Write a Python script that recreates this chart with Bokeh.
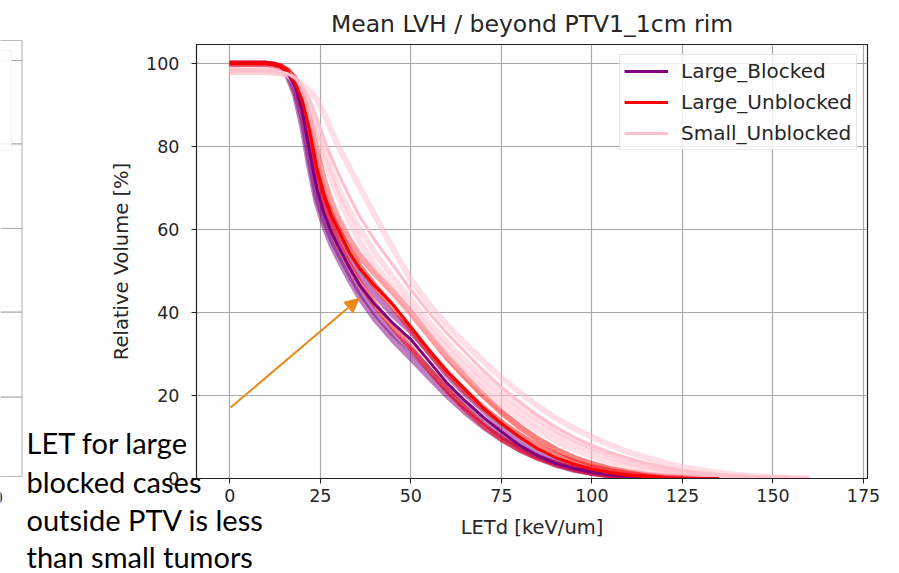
from bokeh.plotting import figure
from bokeh.models import (Range1d, FixedTicker, Legend, LegendItem, Label, Arrow,
                          NormalHead, BoxAnnotation, GridBox)
from bokeh.embed import file_html
from bokeh.resources import INLINE

# ---------------- data ----------------
LET_GRID = [0, 5, 10, 12, 14, 16, 18, 20, 22, 24, 26, 28, 30, 33, 36, 40, 45, 50, 55, 60,
            65, 70, 75, 80, 85, 90, 95, 100, 105, 110, 115, 120, 125, 130, 135, 140, 145,
            150, 155, 160]

x_ticks = [0, 25, 50, 75, 100, 125, 150, 175]
y_ticks = [0, 20, 40, 60, 80, 100]

# mean curves
large_blocked_mean = [100, 100, 100, 99.8, 99.2, 97.8, 94.5, 89, 79, 70, 64, 59.5, 56, 51, 46.5,
                      42, 37.5, 33.5, 28.3, 23, 18.7, 14.8, 11.3, 8, 5.5, 3.6, 2.4, 1.5, 0.9,
                      0.5, 0.3, 0.15, 0.05, 0, 0]
large_unblocked_mean = [100, 100, 100, 99.8, 99.3, 98, 95.5, 91.2, 84, 75, 68.5, 63.5, 60, 54.5,
                        50.5, 46.5, 42, 36.5, 31, 25.8, 21.5, 17, 13.3, 10, 7.2, 5, 3.5, 2.3,
                        1.4, 0.8, 0.4, 0.2, 0.1, 0.03, 0]
small_unblocked_mean = [98.5, 98.5, 98.4, 98.3, 98.1, 97.6, 96.5, 94.5, 91.5, 87, 82, 77.5, 73.5,
                        68, 63, 57.5, 51.5, 45.5, 40, 35, 30.5, 26, 22, 18.5, 15.2, 12.4, 10, 8,
                        6.3, 4.9, 3.7, 2.7, 1.9, 1.3, 0.8, 0.5, 0.3, 0.15, 0.05, 0]

# individual cases
blocked_case_1 = [100, 100, 100, 99.7, 99, 97, 92.5, 85, 75, 66.5, 61, 56.5, 53, 48, 43.5, 38.5,
                  33.5, 29, 24.5, 20, 16, 12.5, 9.5, 7, 5, 3.3, 2.1, 1.3, 0.7, 0.4, 0.2, 0.1, 0]
blocked_case_2 = [100, 100, 100, 99.8, 99.3, 98.2, 95.5, 91, 82.5, 73.5, 67, 62, 58.5, 53.5, 49,
                  44.5, 39.5, 35.5, 30.5, 25, 20.5, 16.5, 12.5, 9.2, 6.4, 4.3, 2.8, 1.8, 1.1,
                  0.6, 0.3, 0.15, 0.05, 0]
blocked_case_3 = [100, 100, 100, 99.7, 99.1, 97.5, 93.5, 87, 77, 68, 62.5, 58, 54.5, 49.5, 45,
                  40, 35, 31, 26.3, 21.5, 17.3, 13.7, 10.4, 7.6, 5.3, 3.6, 2.3, 1.4, 0.8, 0.4,
                  0.2, 0.1, 0]
unblocked_case_1 = [100, 100, 100, 99.8, 99.4, 98.4, 96.5, 93, 87, 79, 72, 66.5, 62.5, 57.5, 53.5,
                    49.5, 45, 40, 34.5, 29.2, 24.5, 20, 16, 12.5, 9.5, 7, 5, 3.5, 2.3, 1.5, 0.9,
                    0.5, 0.25, 0.1, 0]
unblocked_case_2 = [100, 100, 100, 99.8, 99.2, 97.8, 95, 89.5, 81, 72.5, 66, 60.5, 56.5, 51.5, 47,
                    42, 36.5, 31.5, 26.3, 21.3, 16.8, 12.8, 9.6, 7, 5, 3.5, 2.3, 1.4, 0.8, 0.4,
                    0.2, 0.1, 0]
unblocked_case_3 = [100, 100, 100, 99.8, 99.4, 98.2, 96, 91.5, 84, 75.5, 69, 64, 60, 55, 51, 46.5,
                    41.5, 36, 30.5, 25.5, 21, 17, 13.5, 10.5, 7.8, 5.6, 4, 2.7, 1.8, 1.1, 0.6,
                    0.3, 0.1, 0]
small_case_1 = [98, 98, 98, 97.9, 97.7, 97.2, 96.3, 95, 93.5, 91.5, 88, 84, 80, 75, 70, 63.5, 55.5,
                48, 42, 37, 32.5, 28.3, 24.3, 20.8, 17.5, 14.6, 12.1, 10, 8.1, 6.4, 5, 3.8, 2.8,
                2, 1.4, 0.9, 0.55, 0.3, 0.12, 0]
small_case_2 = [98.5, 98.5, 98.5, 98.4, 98.2, 97.6, 96.2, 93.5, 90, 85, 79.5, 74.5, 70, 64.5, 60,
                54.5, 48.5, 43, 37.7, 32.8, 28.4, 24.4, 20.8, 17.4, 14.4, 11.7, 9.4, 7.4, 5.8,
                4.4, 3.3, 2.4, 1.7, 1.1, 0.7, 0.4, 0.2, 0.1, 0.03, 0]
small_case_3 = [99, 99, 99, 98.9, 98.6, 97.6, 95, 91, 85, 78, 72, 67, 63, 58, 54, 49.5, 44.5, 39.5,
                34.5, 29.7, 25.3, 21.2, 17.6, 14.4, 11.6, 9.1, 7, 5.3, 4, 2.9, 2, 1.4, 0.9, 0.5,
                0.3, 0.1, 0]
small_case_4 = [98, 98, 98, 97.9, 97.8, 97.4, 96, 93, 88.5, 83, 77.5, 72.5, 68, 62, 57, 51.5, 46,
                41, 36, 31.2, 26.8, 22.8, 19.2, 16, 13.1, 10.6, 8.5, 6.7, 5.2, 3.9, 2.9, 2.1, 1.5,
                1, 0.6, 0.35, 0.2, 0.1, 0]

series_names = ["Large_Blocked", "Large_Unblocked", "Small_Unblocked"]
annotation_lines = ["LET for large", "blocked cases", "outside PTV is less", "than small tumors"]

PURPLE = "#800080"
RED = "#ff0000"
PINK = "#ffc0cb"
ORANGE = "#e8891a"
TXT = "#262626"
GRID = "#a8a8a8"
SPINE = "#222222"

W, H = 899, 573


def xs(vals):
    return LET_GRID[:len(vals)]


# ---------------- main chart ----------------
p = figure(width=W, height=H, x_range=Range1d(-9.2, 176.1), y_range=Range1d(0, 104.65),
           output_backend="svg", toolbar_location=None,
           min_border_left=196, min_border_right=32, min_border_top=44, min_border_bottom=95,
           title="Mean LVH / beyond PTV1_1cm rim")
p.frame_align = False
p.background_fill_color = "white"
p.border_fill_color = "white"
p.outline_line_color = SPINE
p.outline_line_width = 1.2

p.title.text_font = "DejaVu Sans"
p.title.text_font_size = "23.5px"
p.title.text_font_style = "normal"
p.title.text_color = TXT
p.title.align = "center"
p.title.standoff = 13

p.xaxis.ticker = FixedTicker(ticks=x_ticks)
p.yaxis.ticker = FixedTicker(ticks=y_ticks)
p.xaxis.axis_label = "LETd [keV/um]"
p.yaxis.axis_label = "Relative Volume [%]"
for ax in (p.xaxis[0], p.yaxis[0]):
    ax.major_label_text_font = "DejaVu Sans"
    ax.major_label_text_font_size = "17.5px"
    ax.major_label_text_color = TXT
    ax.axis_label_text_font = "DejaVu Sans"
    ax.axis_label_text_font_size = "19.5px"
    ax.axis_label_text_font_style = "normal"
    ax.axis_label_text_color = TXT
    ax.minor_tick_line_color = None
    ax.major_tick_out = 5
    ax.major_tick_in = 0
    ax.major_tick_line_color = SPINE
    ax.axis_line_color = SPINE
p.xaxis.major_label_standoff = 5
p.yaxis.major_label_standoff = 12
p.xaxis.axis_label_standoff = 11
p.yaxis.axis_label_standoff = 10

p.xgrid.grid_line_color = GRID
p.ygrid.grid_line_color = GRID
p.xgrid.grid_line_width = 1.2
p.ygrid.grid_line_width = 1.2

for c in (blocked_case_1, blocked_case_2, blocked_case_3):
    p.line(xs(c), c, line_color=PURPLE, line_alpha=0.5, line_width=6)
for c in (unblocked_case_1, unblocked_case_2, unblocked_case_3):
    p.line(xs(c), c, line_color=RED, line_alpha=0.5, line_width=6)
for c in (small_case_1, small_case_2, small_case_3, small_case_4):
    p.line(xs(c), c, line_color=PINK, line_alpha=0.5, line_width=6)

r_b = p.line(xs(large_blocked_mean), large_blocked_mean, line_color=PURPLE, line_width=3)
r_u = p.line(xs(large_unblocked_mean), large_unblocked_mean, line_color=RED, line_width=3)
r_s = p.line(xs(small_unblocked_mean), small_unblocked_mean, line_color=PINK, line_width=3)

legend = Legend(items=[LegendItem(label=series_names[0], renderers=[r_b]),
                       LegendItem(label=series_names[1], renderers=[r_u]),
                       LegendItem(label=series_names[2], renderers=[r_s])],
                location="top_right")
legend.label_text_font = "DejaVu Sans"
legend.label_text_font_size = "20px"
legend.label_text_color = TXT
legend.glyph_width = 44
legend.glyph_height = 20
legend.label_height = 20
legend.spacing = 7
legend.padding = 4
legend.label_standoff = 13
legend.margin = 10
legend.border_line_color = "#cccccc"
legend.background_fill_alpha = 0.8
p.add_layout(legend)

p.add_layout(Arrow(end=NormalHead(size=14, fill_color=ORANGE, line_color=ORANGE),
                   x_start=0.2, y_start=17.1, x_end=35.7, y_end=43.4,
                   line_color=ORANGE, line_width=2))

# ---------------- overlay: annotation text + remnant of neighbouring panel ----------------
ov = figure(width=W, height=H, x_range=Range1d(0, W), y_range=Range1d(H, 0),
            output_backend="svg", toolbar_location=None, min_border=0,
            x_axis_location=None, y_axis_location=None, outline_line_color=None)
ov.frame_align = False
ov.background_fill_color = None
ov.border_fill_color = None
ov.grid.visible = False

remnant_grid_y = [60, 143.3, 228, 311.7, 396.7]
ov.segment(x0=[0] * len(remnant_grid_y), y0=remnant_grid_y,
           x1=[21.5] * len(remnant_grid_y), y1=remnant_grid_y,
           line_color=GRID, line_width=1.2)
ov.add_layout(BoxAnnotation(left=-10, right=21.5, top=40, bottom=476, fill_alpha=0,
                            line_color=SPINE, line_width=1.2))
ov.add_layout(BoxAnnotation(left=-30, right=11, top=50, bottom=150, fill_color="white",
                            fill_alpha=0.85, line_color="#d5d5d5", line_width=1))
ov.add_layout(Label(x=-3, y=497, text="0", text_align="center", text_baseline="middle",
                    text_font="DejaVu Sans", text_font_size="17.5px", text_color=TXT))

text_left = 26
text_baselines = [442, 480.5, 518.5, 556]
for t, ty in zip(annotation_lines, text_baselines):
    ov.add_layout(Label(x=text_left, y=ty, text=t, text_font="Lato", text_font_size="29px",
                        text_color="black", text_baseline="alphabetic"))

layout = GridBox(children=[(p, 0, 0), (ov, 0, 0)])
open("out.html", "w").write(file_html(layout, INLINE))
